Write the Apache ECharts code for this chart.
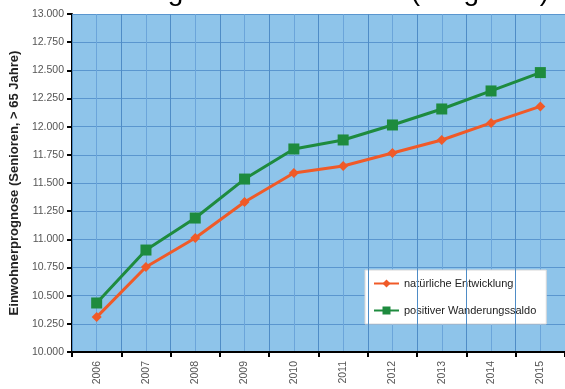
<!DOCTYPE html>
<html>
<head>
<meta charset="utf-8">
<script src="https://cdn.jsdelivr.net/npm/echarts@6/dist/echarts.min.js"></script>
<style>
html,body{margin:0;padding:0;background:#fff;}
#c{width:565px;height:389px;}
</style>
</head>
<body>
<div id="c"></div>
<script>
const categories = ['2006','2007','2008','2009','2010','2011','2012','2013','2014','2015'];
const natuerlich = [10310, 10755, 11012, 11331, 11589, 11651, 11766, 11882, 12033, 12180];
const wanderung = [10435, 10905, 11189, 11535, 11802, 11882, 12015, 12157, 12317, 12480];
const seriesNames = ['natürliche Entwicklung', 'positiver Wanderungssaldo'];
const titleText = 'Entwicklung der Seniorenzahl (Prognose)';
const yAxisTitle = 'Einwohnerprognose (Senioren, > 65 Jahre)';

const chart = echarts.init(document.getElementById('c'), null, {renderer:'canvas'});
chart.setOption({
  animation: false,
  backgroundColor: '#ffffff',
  title: {
    text: titleText,
    left: 29,
    top: -27,
    textStyle: {fontFamily: 'Liberation Sans, Arial', fontSize: 28, fontWeight: 'normal', color: '#000'}
  },
  grid: {left: 72, right: 0, top: 14, bottom: 37, show: true, backgroundColor: '#8EC4EA', borderWidth: 0},
  legend: {
    orient: 'vertical',
    left: 365, top: 270,
    padding: [8, 10, 8, 8],
    backgroundColor: '#ffffff',
    borderColor: '#d8d8d8', borderWidth: 1,
    itemWidth: 25, itemHeight: 10, itemGap: 16,
    textStyle: {fontFamily: 'Liberation Sans, Arial', fontSize: 11, color: '#222'},
    data: seriesNames
  },
  xAxis: [{
    type: 'category',
    data: categories,
    boundaryGap: true,
    axisLine: {lineStyle: {color: '#000', width: 2}},
    axisTick: {show: true, length: 5, lineStyle: {color: '#000', width: 2}},
    axisLabel: {rotate: 90, color: '#555', fontSize: 10.5, fontFamily: 'Liberation Sans, Arial', margin: 9},
    splitLine: {show: true, lineStyle: {color: '#4F8CC6', width: 1}},
    z: 5
  }, {
    type: 'value', min: 0, max: 20, interval: 1,
    position: 'bottom',
    axisLine: {show: false}, axisTick: {show: false}, axisLabel: {show: false},
    splitLine: {show: true, lineStyle: {color: '#6BA5DA', width: 1}}
  }],
  yAxis: {
    type: 'value', min: 10000, max: 13000, interval: 250,
    name: yAxisTitle,
    nameLocation: 'middle', nameGap: 51,
    nameTextStyle: {fontFamily: 'Liberation Sans, Arial', fontSize: 13, fontWeight: 'bold', color: '#222'},
    axisLine: {show: true, lineStyle: {color: '#000', width: 2}},
    axisTick: {show: true, length: 5, lineStyle: {color: '#000', width: 2}},
    axisLabel: {color: '#555', fontSize: 10.5, fontFamily: 'Liberation Sans, Arial', margin: 8,
      formatter: v => (v/1000).toFixed(3)},
    splitLine: {show: true, lineStyle: {color: '#5A96CF', width: 1}}
  },
  series: [{
    name: seriesNames[0], type: 'line', data: natuerlich,
    symbol: 'diamond', symbolSize: 10,
    lineStyle: {color: '#F05A28', width: 3},
    itemStyle: {color: '#F05A28'},
    z: 10
  }, {
    name: seriesNames[1], type: 'line', data: wanderung,
    symbol: 'rect', symbolSize: 11,
    lineStyle: {color: '#1E8B3E', width: 3},
    itemStyle: {color: '#1E8B3E'},
    z: 10
  }]
});
</script>
</body>
</html>
